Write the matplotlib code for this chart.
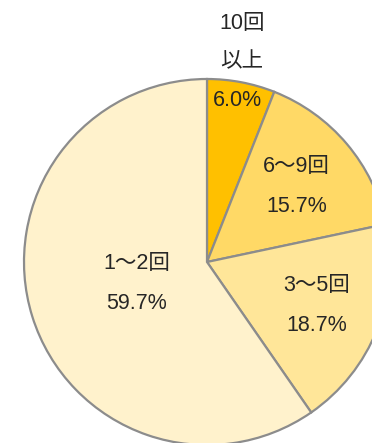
import matplotlib
matplotlib.use("Agg")
import matplotlib.pyplot as plt
import numpy as np

plt.rcParams['font.family'] = ['Liberation Sans', 'Noto Sans CJK JP']

# Data
labels = ["10回\n以上", "6～9回", "3～5回", "1～2回"]
values = [6.0, 15.7, 18.7, 59.7]
colors = ["#FFC000", "#FFD966", "#FFE699", "#FFF2CC"]

fig = plt.figure(figsize=(3.72, 4.43), dpi=100)
ax = fig.add_axes([0, 0, 1, 1])

cx, cy, r = 207, 181, 183
ax.pie(values, colors=colors, startangle=90, counterclock=False,
       center=(cx, cy), radius=r, frame=True,
       wedgeprops=dict(edgecolor="#8C8C8C", linewidth=1.6))
ax.set_xlim(0, 372)
ax.set_ylim(0, 443)
ax.set_aspect("equal")
ax.axis("off")

# label placement (fraction of radius) per slice
dist = [0.9, 0.64, 0.645, 0.4]
tc = "#262626"
fs = 15.5
start = 90.0
for lab, v, d in zip(labels, values, dist):
    ang = np.deg2rad(start - v * 3.6 / 2)
    start -= v * 3.6
    x = cx + d * r * np.cos(ang)
    y = cy + d * r * np.sin(ang)
    pct = f"{v:.1f}%"
    if lab.startswith("10"):
        ax.text(x, y, pct, ha="center", va="center", fontsize=fs, color=tc)
        top, bottom = lab.split("\n")
        ax.text(242, 420, top, ha="center", va="center", fontsize=fs, color=tc)
        ax.text(242, 381, bottom, ha="center", va="center", fontsize=fs, color=tc)
    else:
        ax.text(x, y + 20, lab, ha="center", va="center", fontsize=fs, color=tc)
        ax.text(x, y - 20, pct, ha="center", va="center", fontsize=fs, color=tc)

fig.savefig("out.png", dpi=100)
